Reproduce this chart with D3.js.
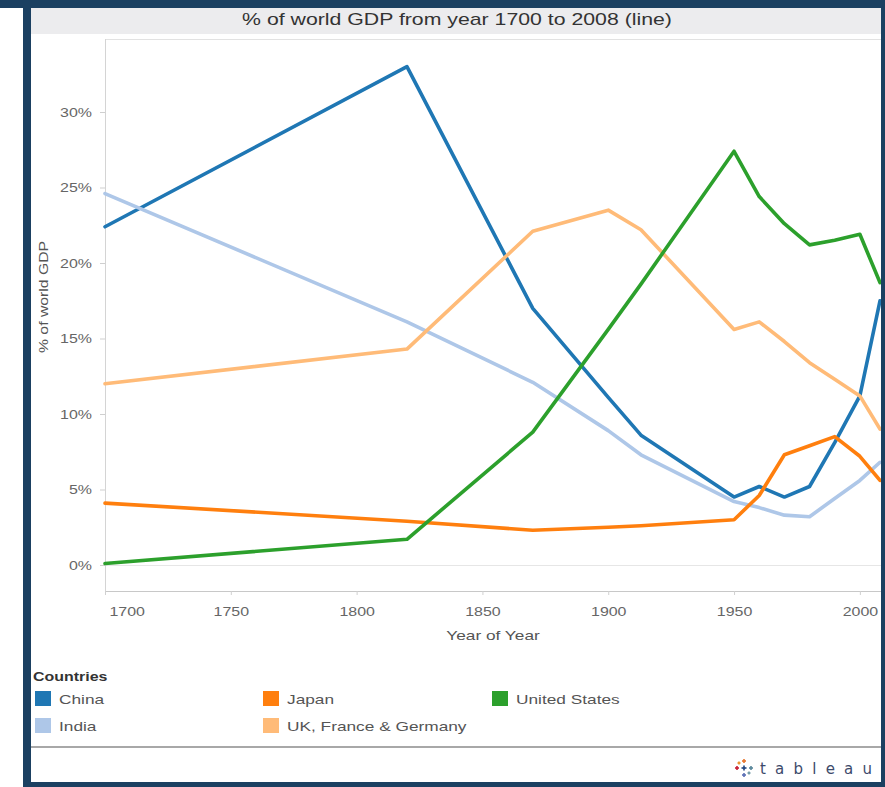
<!DOCTYPE html>
<html>
<head>
<meta charset="utf-8">
<script src="https://cdn.jsdelivr.net/npm/d3@7"></script>
<style>
html,body{margin:0;padding:0;background:#fff;}
svg{display:block;}
text{font-family:"Liberation Sans",Arial,sans-serif;}
</style>
</head>
<body>
<svg id="chart" width="885" height="787"></svg>
<script>
// ---------- data ----------
const years = [1700, 1820, 1870, 1900, 1913, 1950, 1960, 1970, 1980, 1990, 2000, 2008];
const chinaValues = [22.4, 33.0, 17.0, 11.1, 8.6, 4.5, 5.2, 4.5, 5.2, 8.1, 11.2, 17.5];
const indiaValues = [24.6, 16.1, 12.1, 8.9, 7.3, 4.2, 3.8, 3.3, 3.2, 4.4, 5.6, 6.8];
const japanValues = [4.1, 2.9, 2.3, 2.5, 2.6, 3.0, 4.6, 7.3, 7.9, 8.5, 7.2, 5.6];
const ukFranceGermanyValues = [12.0, 14.3, 22.1, 23.5, 22.2, 15.6, 16.1, 14.8, 13.4, 12.3, 11.2, 9.0];
const unitedStatesValues = [0.1, 1.7, 8.8, 15.6, 18.6, 27.4, 24.4, 22.6, 21.2, 21.5, 21.9, 18.7];

const seriesNames = ["China", "India", "Japan", "UK, France & Germany", "United States"];
const seriesValues = [chinaValues, indiaValues, japanValues, ukFranceGermanyValues, unitedStatesValues];
const seriesColors = ["#1f77b4", "#aec7e8", "#ff7f0e", "#ffbb78", "#2ca02c"];

const yTickValues = [0, 5, 10, 15, 20, 25, 30];
const xTickValues = [1700, 1750, 1800, 1850, 1900, 1950, 2000];

const titleText = "% of world GDP from year 1700 to 2008 (line)";
const xAxisTitle = "Year of Year";
const yAxisTitle = "% of world GDP";
const legendTitle = "Countries";

// ---------- drawing ----------
const SX = 1.33;           // horizontal stretch of the reference text
const NAVY = "#1b4061";
const svg = d3.select("#chart");

// frame
svg.append("rect").attr("x",0).attr("y",0).attr("width",885).attr("height",787).attr("fill","#fff");
svg.append("rect").attr("x",0).attr("y",0).attr("width",885).attr("height",8).attr("fill",NAVY);
svg.append("rect").attr("x",23).attr("y",0).attr("width",8).attr("height",787).attr("fill",NAVY);
svg.append("rect").attr("x",881).attr("y",0).attr("width",4).attr("height",787).attr("fill",NAVY);
svg.append("rect").attr("x",23).attr("y",782).attr("width",862).attr("height",5).attr("fill",NAVY);

// title band
svg.append("rect").attr("x",31).attr("y",8).attr("width",850).attr("height",26).attr("fill","#ececee");
svg.append("text").attr("text-anchor","middle")
  .attr("transform",`translate(457,25) scale(${SX},1)`)
  .attr("fill","#333").style("font-size","16px").text(titleText);

// scales
const x = d3.scaleLinear().domain([1700, 2008]).range([105, 880]);
const y = d3.scaleLinear().domain([0, 30]).range([565, 112]);

// plot frame lines
svg.append("line").attr("x1",105).attr("x2",881).attr("y1",39.5).attr("y2",39.5).attr("stroke","#e2e2e2");
svg.append("line").attr("x1",105).attr("x2",881).attr("y1",y(0)+0.5).attr("y2",y(0)+0.5).attr("stroke","#e6e6e6");
svg.append("line").attr("x1",105.5).attr("x2",105.5).attr("y1",39).attr("y2",592).attr("stroke","#d4d4d4");
svg.append("line").attr("x1",105).attr("x2",881).attr("y1",591.5).attr("y2",591.5).attr("stroke","#c8c8c8");

// y axis
const yAxis = svg.append("g").attr("transform","translate(105,0)")
  .call(d3.axisLeft(y).tickValues(yTickValues).tickFormat(d => d + "%").tickSize(5).tickPadding(8));
yAxis.select(".domain").remove();
yAxis.selectAll(".tick line").attr("stroke","#cfcfcf");
yAxis.selectAll(".tick text")
  .attr("x", -13 / SX).attr("dy","0.35em")
  .attr("transform",`scale(${SX},1)`)
  .attr("fill","#666").style("font-size","12px").style("font-family","'Liberation Sans',Arial,sans-serif");

// x axis
const xAxis = svg.append("g").attr("transform","translate(0,591)")
  .call(d3.axisBottom(x).tickValues(xTickValues).tickFormat(d3.format("d")).tickSize(4).tickPadding(0));
xAxis.select(".domain").remove();
xAxis.selectAll(".tick line").attr("stroke","#d0d0d0");
xAxis.selectAll(".tick text")
  .attr("y",0).attr("dy",0)
  .attr("transform",`translate(0,25) scale(${SX},1)`)
  .attr("fill","#666").style("font-size","12px").style("font-family","'Liberation Sans',Arial,sans-serif");
xAxis.selectAll(".tick text").filter(d => d === 1700).attr("text-anchor","start").attr("x", 3);

// axis titles
svg.append("text").attr("text-anchor","middle")
  .attr("transform",`translate(493,640) scale(${SX},1)`)
  .attr("fill","#555").style("font-size","13px").text(xAxisTitle);
svg.append("text").attr("text-anchor","middle")
  .attr("transform","translate(48,297) rotate(-90)")
  .attr("textLength",112).attr("lengthAdjust","spacingAndGlyphs")
  .attr("fill","#555").style("font-size","12px").text(yAxisTitle);

// lines
svg.append("clipPath").attr("id","plotclip").append("rect")
  .attr("x",100).attr("y",39).attr("width",781).attr("height",553);

const line = d3.line().x(d => x(d.year)).y(d => y(d.value));
const series = seriesNames.map((name, i) => ({
  name, color: seriesColors[i],
  points: years.map((yr, j) => ({year: yr, value: seriesValues[i][j]}))
}));
svg.append("g").attr("clip-path","url(#plotclip)")
  .selectAll("path").data(series).join("path")
  .attr("d", d => line(d.points))
  .attr("fill","none").attr("stroke", d => d.color)
  .attr("stroke-width",3.6).attr("stroke-linejoin","round").attr("stroke-linecap","round");

// legend
svg.append("text").attr("transform",`translate(33,681) scale(${SX},1)`)
  .attr("fill","#333").style("font-size","12px").style("font-weight","bold").text(legendTitle);
const legendPos = [[35,691],[35,718],[263,691],[263,718],[492,691]];
const lg = svg.append("g").selectAll("g").data(series).join("g")
  .attr("transform", (d,i) => `translate(${legendPos[i][0]},${legendPos[i][1]})`);
lg.append("rect").attr("width",16).attr("height",15).attr("fill", d => d.color);
lg.append("text").attr("transform",`translate(24,12.5) scale(${SX},1)`)
  .attr("fill","#555").style("font-size","13px").text(d => d.name);

// footer
svg.append("line").attr("x1",31).attr("x2",881).attr("y1",747).attr("y2",747).attr("stroke","#a8a8a8").attr("stroke-width",2);
const logo = svg.append("g").attr("transform","translate(744,768)");
const crossColors = ["#e8762c","#5b6fb5","#c72035","#59879b","#eb912b","#7099a6","#1f447e"];
const crossPos = [[0,-7],[0,7],[-7,0],[7,0],[-5,-5],[5,5],[0,0]];
const crossSize = [4,4,4,4,3,3,5];
crossPos.forEach((p,i) => {
  const s = crossSize[i], c = crossColors[i];
  logo.append("rect").attr("x",p[0]-s/2).attr("y",p[1]-0.8).attr("width",s).attr("height",1.6).attr("fill",c);
  logo.append("rect").attr("x",p[0]-0.8).attr("y",p[1]-s/2).attr("width",1.6).attr("height",s).attr("fill",c);
});
svg.append("text").attr("x",760).attr("y",774)
  .attr("textLength",112).attr("lengthAdjust","spacing")
  .attr("fill","#3d4a6b").style("font-size","15px").style("font-family","'DejaVu Sans',sans-serif")
  .text("tableau");
</script>
</body>
</html>
